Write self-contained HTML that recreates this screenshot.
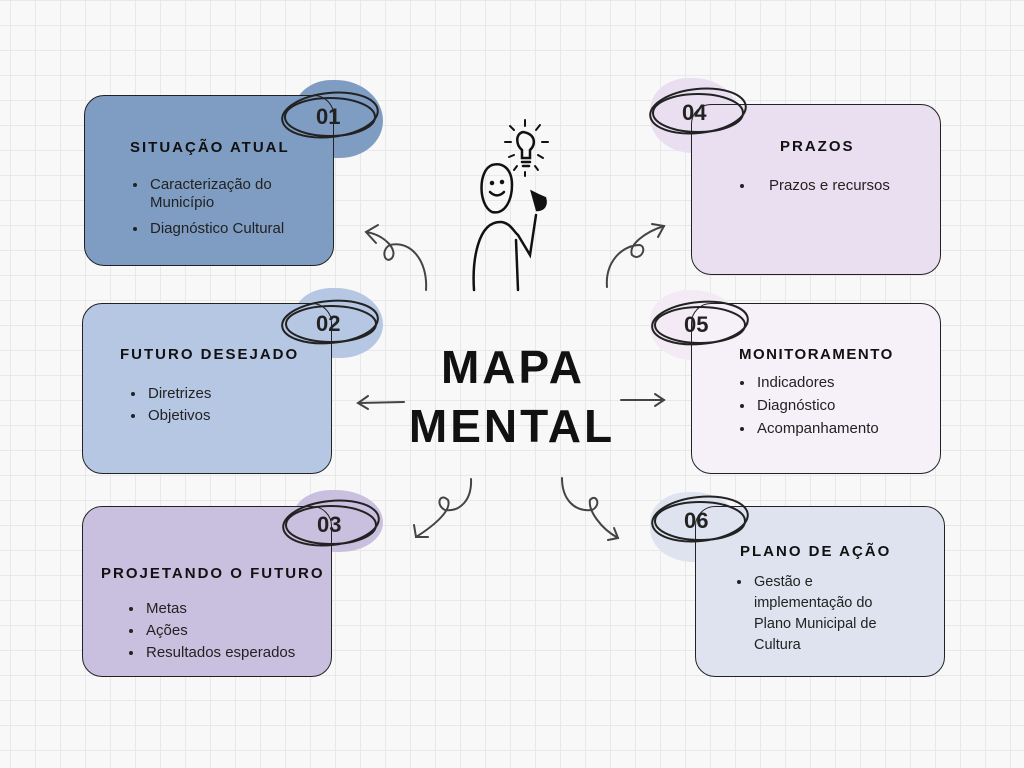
<!DOCTYPE html>
<html><head><meta charset="utf-8"><style>
body{margin:0;width:1024px;height:768px;overflow:hidden;position:relative;font-family:"Liberation Sans",sans-serif;
background-color:#f8f8f8;
background-image:linear-gradient(#e8e8e8 1px,transparent 1px),linear-gradient(90deg,#e8e8e8 1px,transparent 1px);
background-size:25px 25px;background-position:10px 0;}
.blob{position:absolute;border-radius:45% 55% 50% 50%;}
.box{position:absolute;width:250px;height:171px;border:1.5px solid #222;border-radius:20px;box-sizing:border-box;color:#222;}
.t{position:absolute;font-weight:bold;font-size:15px;letter-spacing:2px;color:#111;white-space:nowrap}
ul{position:absolute;margin:0;padding-left:18px;font-size:15px;line-height:22px;}
ul li{padding-left:2px}
svg{position:absolute;left:0;top:0}
.n{font-family:"Liberation Sans",sans-serif;font-weight:bold;font-size:22px;fill:#222}
</style></head><body>
<div class="blob" style="left:293px;top:80px;width:90px;height:78px;background:#7f9dc2"></div>
<div class="blob" style="left:293px;top:288px;width:90px;height:70px;background:#b6c7e3"></div>
<div class="blob" style="left:293px;top:490px;width:90px;height:62px;background:#c9c0df"></div>
<div class="blob" style="left:650px;top:78px;width:90px;height:75px;background:#eadff0"></div>
<div class="blob" style="left:650px;top:290px;width:90px;height:70px;background:#f3eaf5"></div>
<div class="blob" style="left:650px;top:492px;width:90px;height:70px;background:#dee3ef"></div>

<div class="box" style="left:84px;top:95px;background:#7f9dc2">
<div class="t" style="left:45px;top:43px">SITUAÇÃO ATUAL</div>
<ul style="left:45px;top:80px;line-height:18px"><li>Caracterização do Município</li><li style="margin-top:8px">Diagnóstico Cultural</li></ul></div>
<div class="box" style="left:82px;top:303px;background:#b6c7e3">
<div class="t" style="left:37px;top:42px">FUTURO DESEJADO</div>
<ul style="left:45px;top:79px"><li>Diretrizes</li><li>Objetivos</li></ul></div>
<div class="box" style="left:82px;top:506px;background:#c9c0df">
<div class="t" style="left:18px;top:58px">PROJETANDO O FUTURO</div>
<ul style="left:43px;top:91px"><li>Metas</li><li>Ações</li><li>Resultados esperados</li></ul></div>
<div class="box" style="left:691px;top:104px;background:#eadff0">
<div class="t" style="left:88px;top:33px">PRAZOS</div>
<ul style="left:45px;top:70px"><li style="padding-left:14px">Prazos e recursos</li></ul></div>
<div class="box" style="left:691px;top:303px;background:#f6f0f8">
<div class="t" style="left:47px;top:42px;letter-spacing:1.5px">MONITORAMENTO</div>
<ul style="left:45px;top:67px;line-height:23px"><li>Indicadores</li><li>Diagnóstico</li><li>Acompanhamento</li></ul></div>
<div class="box" style="left:695px;top:506px;background:#dee3ef">
<div class="t" style="left:44px;top:36px">PLANO DE AÇÃO</div>
<ul style="left:38px;top:65px;width:150px;line-height:21px;font-size:14.5px"><li>Gestão e implementação do Plano Municipal de Cultura</li></ul></div>

<svg width="1024" height="768" fill="none" stroke="#222" stroke-linecap="round">
<g stroke-width="2">
<ellipse cx="330" cy="115" rx="48" ry="22" transform="rotate(-6 330 115)"/><ellipse cx="330" cy="117" rx="45" ry="19"/>
<ellipse cx="330" cy="322" rx="48" ry="21" transform="rotate(-5 330 322)"/><ellipse cx="331" cy="324" rx="45" ry="18"/>
<ellipse cx="331" cy="523" rx="48" ry="22" transform="rotate(-6 331 523)"/><ellipse cx="331" cy="525" rx="45" ry="19"/>
<ellipse cx="698" cy="111" rx="48" ry="22" transform="rotate(-6 698 111)"/><ellipse cx="698" cy="113" rx="45" ry="19"/>
<ellipse cx="700" cy="323" rx="48" ry="21" transform="rotate(-5 700 323)"/><ellipse cx="700" cy="325" rx="45" ry="18"/>
<ellipse cx="700" cy="519" rx="48" ry="22" transform="rotate(-6 700 519)"/><ellipse cx="700" cy="521" rx="45" ry="19"/>
</g>
<g stroke="#444" stroke-width="2">
<path d="M426 290 C428 260 410 240 390 245 C380 250 385 265 392 258 C398 250 385 235 366 232"/><path d="M378 225 L366 232 L376 243"/>
<path d="M607 287 C605 262 622 245 640 245 C648 248 640 262 632 255 C628 245 645 232 664 226"/><path d="M652 224 L664 226 L658 237"/>
<path d="M404 402 L358 403"/><path d="M368 396 L358 403 L368 409"/>
<path d="M621 400 L664 400"/><path d="M655 394 L664 400 L655 406"/>
<path d="M471 479 C472 500 460 512 445 510 C435 505 440 492 448 500 C452 510 435 525 416 537"/><path d="M414 525 L416 537 L428 537"/>
<path d="M562 478 C562 500 575 512 592 510 C602 505 596 493 590 500 C588 510 600 528 618 538"/><path d="M608 540 L618 538 L614 528"/>
</g>
<g stroke="#111" stroke-width="2.5">
<path d="M492 165 C478 170 478 205 492 212 C505 215 512 200 512 185 C512 168 502 162 492 165"/>
<path d="M490 192 C495 197 500 196 504 192"/>
<path d="M474 290 C472 260 478 222 500 222 C510 222 514 232 518 235 L530 255 L536 215"/>
<path d="M516 240 L518 290"/>
<path d="M532 192 L537 210 C544 210 547 205 545 198 L538 195 Z" fill="#111"/>
<path d="M523 132 C515 134 516 145 522 150 L522 158 L530 158 L530 150 C536 145 536 134 523 132"/>
<path d="M522 162 L530 162 M523 166 L529 166"/>
<path d="M525 120 L525 126 M510 126 L514 130 M540 125 L536 130 M505 142 L511 142 M542 142 L548 142 M509 157 L514 155 M538 155 L543 158 M514 170 L517 166 M535 166 L538 170 M525 172 L525 176" stroke-width="2"/>
<circle cx="492" cy="183" r="1" fill="#111"/><circle cx="502" cy="182" r="1" fill="#111"/>
</g>
<g fill="#222" stroke="none">
<text class="n" x="316" y="124">01</text><text class="n" x="316" y="331">02</text><text class="n" x="317" y="532">03</text>
<text class="n" x="682" y="120">04</text><text class="n" x="684" y="332">05</text><text class="n" x="684" y="528">06</text>
</g>
<g fill="#111" stroke="none" font-family="Liberation Sans,sans-serif" font-weight="bold" font-size="46" text-anchor="middle" letter-spacing="3">
<text x="513" y="383">MAPA</text><text x="512" y="442">MENTAL</text>
</g>
</svg>
</body></html>
